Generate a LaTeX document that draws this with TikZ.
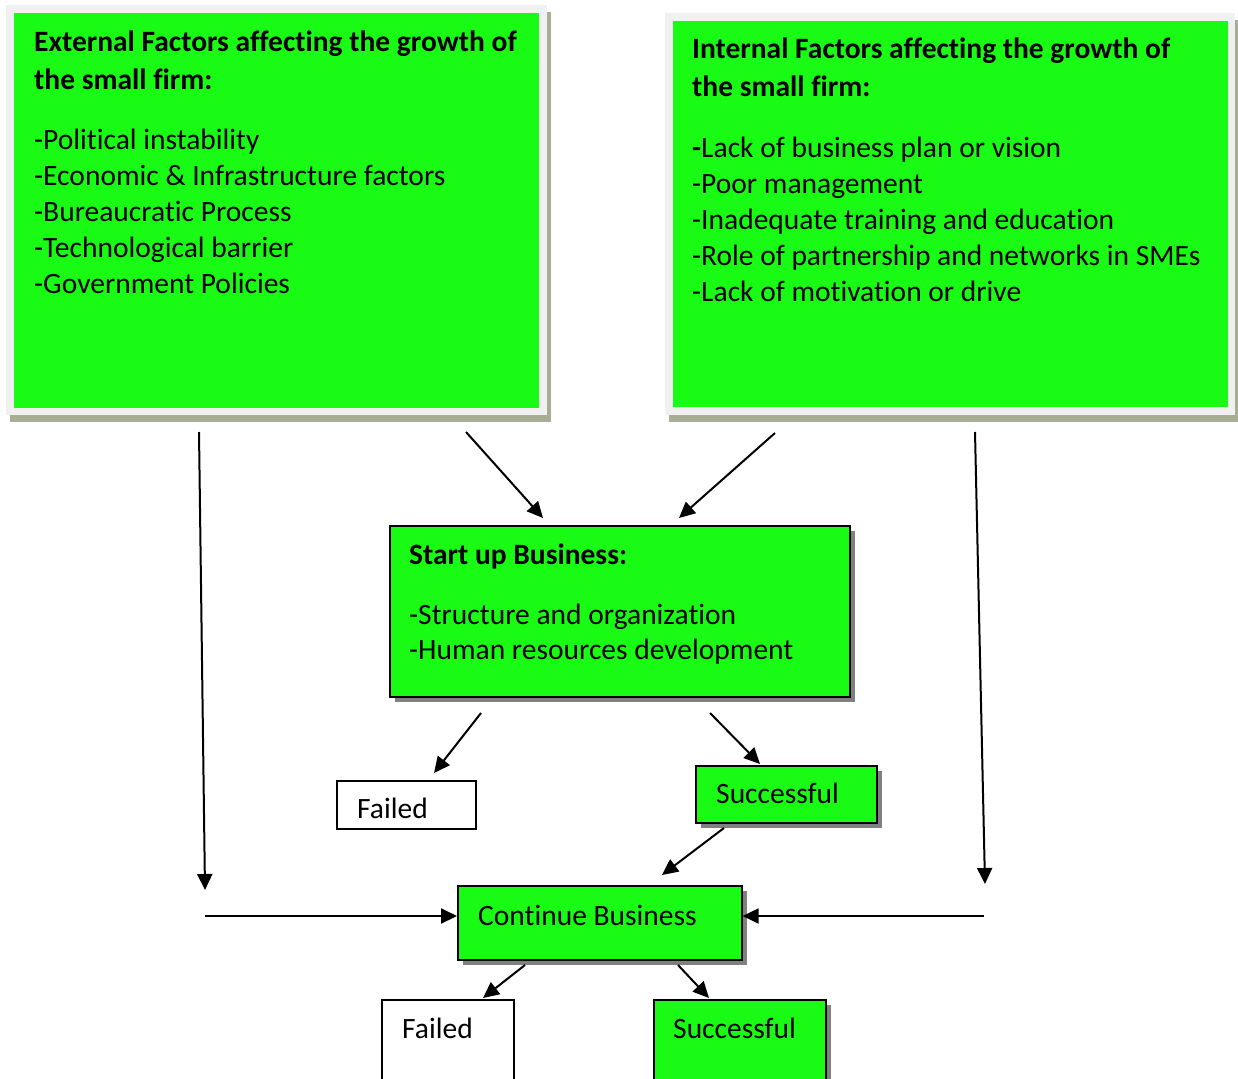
\documentclass[tikz,border=0pt]{standalone}
\usepackage{fontspec}
\setmainfont{Carlito}[Ligatures={NoCommon,NoContextual,NoRequired}]
\usetikzlibrary{arrows.meta,calc}
\definecolor{boxgreen}{RGB}{25,250,20}
\definecolor{framegray}{RGB}{240,240,240}
\definecolor{frameshadow}{RGB}{167,174,147}
\definecolor{dropgray}{RGB}{128,128,128}
\newcommand\bodyfont{\fontsize{29.5}{35.75}\selectfont}
\newcommand\headfont{\fontsize{29.5}{38}\selectfont\bfseries}
\begin{document}
\begin{tikzpicture}[x=1pt,y=-1pt,
  txt/.style={inner sep=0pt, anchor=base west, font=\bodyfont},
  head/.style={inner sep=0pt, anchor=base west, font=\headfont},
  greenbox/.style={fill=boxgreen, inner sep=0pt, anchor=north west},
  flowbox/.style={draw=black, line width=1.6pt, fill=boxgreen, inner sep=0pt, anchor=north west},
  plainbox/.style={draw=black, line width=1.6pt, fill=white, inner sep=0pt, anchor=north west},
  arr/.style={line width=2pt, -{Triangle[length=16pt,width=15pt]}}]
\clip (0,0) rectangle (1238,1078);
\fill[white] (0,0) rectangle (1238,1078);

% ---- external factors panel ----
\fill[frameshadow] (10,12) rectangle (551,422);
\fill[framegray] (6,5) rectangle (547,415);
\node[greenbox, minimum width=525pt, minimum height=395pt] (ext) at (14,13) {};
\node[head] (exthead) at (34,52) {\parbox[t]{510pt}{External Factors affecting the growth of\\the small firm:}};
\node[txt] (extlist) at (34,150) {\parbox[t]{500pt}{-Political instability\\-Economic \& Infrastructure factors\\-Bureaucratic Process\\-Technological barrier\\-Government Policies}};

% ---- internal factors panel ----
\fill[frameshadow] (669,20) rectangle (1240,422);
\fill[framegray] (665,13) rectangle (1235,415);
\node[greenbox, minimum width=555pt, minimum height=386pt] (int) at (673,21) {};
\node[head] (inthead) at (692,59) {\parbox[t]{530pt}{Internal Factors affecting the growth of\\the small firm:}};
\node[txt] (intlist) at (692,158) {\parbox[t]{540pt}{\textbf{-}Lack of business plan or vision\\-Poor management\\-Inadequate training and education\\-Role of partnership and networks in SMEs\\-Lack of motivation or drive}};

% ---- start up business ----
\fill[dropgray] (395,531) rectangle (855,702);
\node[flowbox, minimum width=460pt, minimum height=171pt] (start) at (389,525) {};
\node[head] (starthead) at (409,564) {Start up Business:};
\node[txt] (startlist) at (409,624) {\parbox[t]{430pt}{-Structure and organization\\-Human resources development}};

% ---- first outcome ----
\node[plainbox, minimum width=139pt, minimum height=48pt] (fail1) at (336,780) {};
\node[txt] (fail1txt) at (357,818) {Failed};
\fill[dropgray] (701,771) rectangle (882,828);
\node[flowbox, minimum width=181pt, minimum height=57pt] (succ1) at (695,765) {};
\node[txt] (succ1txt) at (716,803) {Successful};

% ---- continue business ----
\fill[dropgray] (463,891) rectangle (747,965);
\node[flowbox, minimum width=284pt, minimum height=74pt] (cont) at (457,885) {};
\node[txt] (conttxt) at (478,925) {Continue Business};

% ---- final outcome ----
\node[plainbox, minimum width=132pt, minimum height=90pt] (fail2) at (381,999) {};
\node[txt] (fail2txt) at (402,1038) {Failed};
\fill[dropgray] (659,1005) rectangle (831,1095);
\node[flowbox, minimum width=172pt, minimum height=90pt] (succ2) at (653,999) {};
\node[txt] (succ2txt) at (673,1038) {Successful};

% ---- connector end points ----
\coordinate (extL) at (199,432);
\coordinate (extLend) at (205,890);
\coordinate (extR) at (466,432);
\coordinate (startL) at (543,518);
\coordinate (intL) at (775,433);
\coordinate (startR) at (679,518);
\coordinate (intR) at (975,432);
\coordinate (intRend) at (985,884);
\coordinate (startBL) at (481,713);
\coordinate (fail1top) at (434,773);
\coordinate (startBR) at (710,713);
\coordinate (succ1top) at (760,764);
\coordinate (succ1bot) at (724,828);
\coordinate (conttop) at (662,875);
\coordinate (feedL) at (205,916);
\coordinate (feedR) at (984,916);
\coordinate (contBL) at (525,965);
\coordinate (fail2top) at (483,998);
\coordinate (contBR) at (678,965);
\coordinate (succ2top) at (709,998);

% ---- connectors ----
\draw[arr] (extL) -- (extLend);
\draw[arr] (extR) -- (startL);
\draw[arr] (intL) -- (startR);
\draw[arr] (intR) -- (intRend);
\draw[arr] (startBL) -- (fail1top);
\draw[arr] (startBR) -- (succ1top);
\draw[arr] (succ1bot) -- (conttop);
\draw[arr] (feedL) -- (cont.west |- feedL);
\draw[arr] (feedR) -- (cont.east |- feedR);
\draw[arr] (contBL) -- (fail2top);
\draw[arr] (contBR) -- (succ2top);
\end{tikzpicture}
\end{document}
